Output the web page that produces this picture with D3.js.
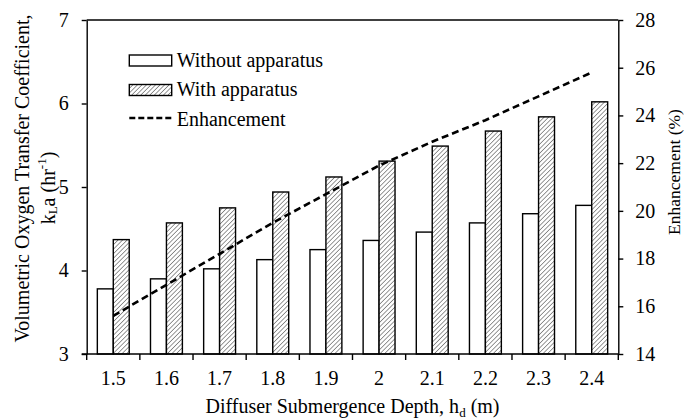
<!DOCTYPE html>
<html>
<head>
<meta charset="utf-8">
<script src="https://cdn.jsdelivr.net/npm/d3@7"></script>
<style>
  html, body { margin: 0; padding: 0; background: #fff; }
  svg { display: block; font-family: "Liberation Serif", "Times New Roman", serif; }
</style>
</head>
<body>
<svg id="chart" width="684" height="419"></svg>
<script>
// Submergence depths (m)
const depths = ["1.5", "1.6", "1.7", "1.8", "1.9", "2", "2.1", "2.2", "2.3", "2.4"];
// kLa (hr^-1) without / with the apparatus
const withoutApparatus = [3.78, 3.90, 4.02, 4.13, 4.25, 4.36, 4.46, 4.57, 4.68, 4.78];
const withApparatus    = [4.37, 4.57, 4.75, 4.94, 5.12, 5.31, 5.49, 5.67, 5.84, 6.02];
// Enhancement (%)
const enhancement      = [15.6, 16.9, 18.2, 19.5, 20.7, 21.9, 22.9, 23.8, 24.8, 25.8];
// Axis ticks
const leftTicks  = [3, 4, 5, 6, 7];
const rightTicks = [14, 16, 18, 20, 22, 24, 26, 28];

const svg = d3.select("#chart");
const plot = { left: 86.7, right: 618.3, top: 20, bottom: 354 };
const FONT = 20;

const x = d3.scaleBand().domain(depths).range([plot.left, plot.right]).padding(0);
const yL = d3.scaleLinear().domain([3, 7]).range([plot.bottom, plot.top]);
const yR = d3.scaleLinear().domain([14, 28]).range([plot.bottom, plot.top]);
const barW = x.bandwidth() * 0.3;

// Diagonal hatch for the "with apparatus" bars
const defs = svg.append("defs");
const pat = defs.append("pattern")
  .attr("id", "hatch")
  .attr("patternUnits", "userSpaceOnUse")
  .attr("width", 3.2).attr("height", 3.2)
  .attr("patternTransform", "rotate(45)");
pat.append("rect").attr("width", 3.2).attr("height", 3.2).attr("fill", "#fff");
pat.append("line").attr("x1", 0).attr("y1", 0).attr("x2", 0).attr("y2", 3.2)
  .attr("stroke", "#444").attr("stroke-width", 1.1);

// Bars
const g = svg.append("g");
g.selectAll("rect.without").data(depths).join("rect")
  .attr("class", "without")
  .attr("x", d => x(d) + x.bandwidth() / 2 - barW)
  .attr("width", barW)
  .attr("y", (d, i) => yL(withoutApparatus[i]))
  .attr("height", (d, i) => yL(3) - yL(withoutApparatus[i]))
  .attr("fill", "#fff").attr("stroke", "#000").attr("stroke-width", 1.4);

g.selectAll("rect.with").data(depths).join("rect")
  .attr("class", "with")
  .attr("x", d => x(d) + x.bandwidth() / 2)
  .attr("width", barW)
  .attr("y", (d, i) => yL(withApparatus[i]))
  .attr("height", (d, i) => yL(3) - yL(withApparatus[i]))
  .attr("fill", "url(#hatch)").attr("stroke", "#000").attr("stroke-width", 1.4);

// Enhancement line
const line = d3.line()
  .x((d, i) => x(depths[i]) + x.bandwidth() / 2)
  .y(d => yR(d));
svg.append("path").datum(enhancement)
  .attr("d", line)
  .attr("fill", "none").attr("stroke", "#000")
  .attr("stroke-width", 2.6).attr("stroke-dasharray", "7,4");

// Axes
function styleAxis(sel) {
  sel.selectAll("path, line").attr("stroke", "#000").attr("stroke-width", 1.4);
  sel.selectAll("text").attr("font-size", FONT).attr("fill", "#000")
    .attr("font-family", "Liberation Serif, Times New Roman, serif");
}

svg.append("g").attr("transform", `translate(${plot.left},0)`)
  .call(d3.axisLeft(yL).tickValues(leftTicks).tickFormat(d3.format("d"))
    .tickSize(5).tickSizeOuter(0).tickPadding(13))
  .call(styleAxis);

svg.append("g").attr("transform", `translate(${plot.right},0)`)
  .call(d3.axisRight(yR).tickValues(rightTicks).tickFormat(d3.format("d"))
    .tickSize(5).tickSizeOuter(0).tickPadding(12))
  .call(styleAxis);

const xAxis = svg.append("g").attr("transform", `translate(0,${plot.bottom})`)
  .call(d3.axisBottom(x).tickSize(0).tickSizeOuter(0).tickPadding(17))
  .call(styleAxis);
xAxis.select(".domain").remove();

// Baseline and category boundary ticks
const bounds = depths.map(d => x(d)).concat([plot.right]);
svg.append("line")
  .attr("x1", plot.left - 5).attr("x2", plot.right)
  .attr("y1", plot.bottom).attr("y2", plot.bottom)
  .attr("stroke", "#000").attr("stroke-width", 1.4);
svg.append("g").selectAll("line").data(bounds).join("line")
  .attr("x1", d => d).attr("x2", d => d)
  .attr("y1", plot.bottom).attr("y2", plot.bottom + 6)
  .attr("stroke", "#000").attr("stroke-width", 1.4);

// Top frame
svg.append("line")
  .attr("x1", plot.left).attr("x2", plot.right)
  .attr("y1", plot.top).attr("y2", plot.top)
  .attr("stroke", "#000").attr("stroke-width", 1.4);

// Axis titles
const xt = svg.append("text")
  .attr("x", (plot.left + plot.right) / 2).attr("y", 412.5)
  .attr("text-anchor", "middle").attr("font-size", FONT);
xt.append("tspan").text("Diffuser Submergence Depth, h");
xt.append("tspan").attr("font-size", 13).attr("dy", 4).text("d");
xt.append("tspan").attr("dy", -4).text(" (m)");

svg.append("text")
  .attr("transform", "translate(22,178.5) rotate(-90)")
  .attr("text-anchor", "middle").attr("dominant-baseline", "central")
  .attr("font-size", FONT)
  .text("Volumetric Oxygen Transfer Coefficient,");

const yt2 = svg.append("text")
  .attr("transform", "translate(48,188) rotate(-90)")
  .attr("text-anchor", "middle").attr("dominant-baseline", "central")
  .attr("font-size", FONT);
yt2.append("tspan").text("k");
yt2.append("tspan").attr("font-size", 13).attr("dy", 4).text("L");
yt2.append("tspan").attr("dy", -4).text("a (hr");
yt2.append("tspan").attr("font-size", 13).attr("dy", -7).text("-1");
yt2.append("tspan").attr("dy", 7).text(")");

svg.append("text")
  .attr("transform", "translate(680,172) rotate(-90)")
  .attr("text-anchor", "middle")
  .attr("font-size", 17.5)
  .text("Enhancement (%)");

// Legend
const legend = svg.append("g");
const lx = 129.3, lw = 42.4;
const rows = [
  { label: "Without apparatus", type: "plain", base: 66.5 },
  { label: "With apparatus", type: "hatch", base: 96 },
  { label: "Enhancement", type: "dash", base: 125.5 }
];
rows.forEach(r => {
  if (r.type === "dash") {
    legend.append("line")
      .attr("x1", lx).attr("x2", lx + lw)
      .attr("y1", r.base - 7.5).attr("y2", r.base - 7.5)
      .attr("stroke", "#000").attr("stroke-width", 2.6)
      .attr("stroke-dasharray", "6,3");
  } else {
    legend.append("rect")
      .attr("x", lx).attr("y", r.base - 11.5)
      .attr("width", lw).attr("height", 11)
      .attr("fill", r.type === "hatch" ? "url(#hatch)" : "#fff")
      .attr("stroke", "#000").attr("stroke-width", 1.4);
  }
  legend.append("text")
    .attr("x", lx + lw + 5).attr("y", r.base)
    .attr("font-size", FONT)
    .text(r.label);
});
</script>
</body>
</html>
